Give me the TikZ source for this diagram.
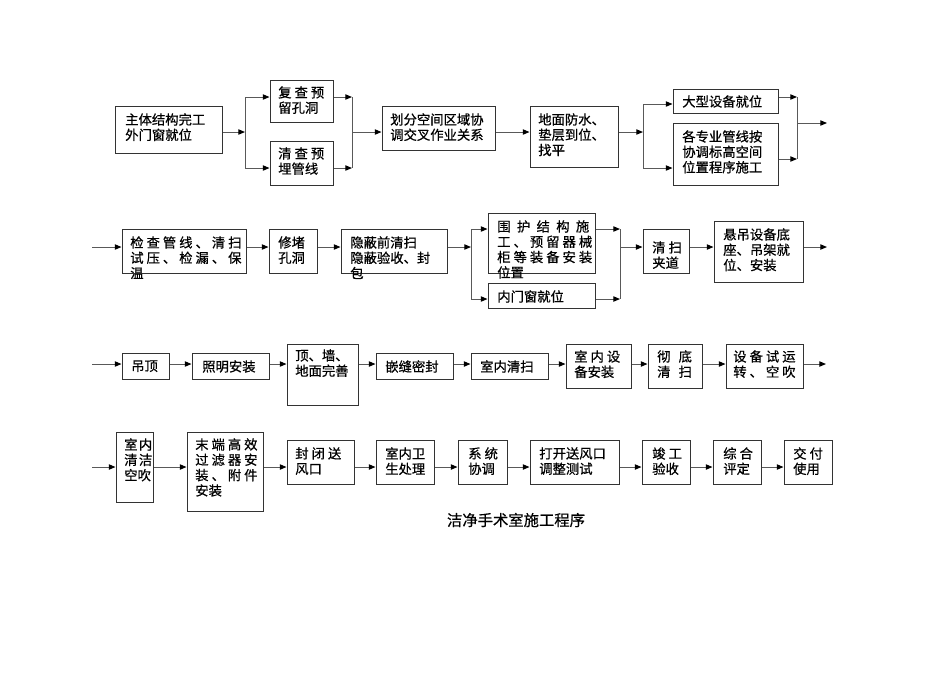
\documentclass[tikz,border=0pt]{standalone}
\usepackage{fontspec}
\setmainfont{Noto Sans CJK SC}[FakeBold=0.6]
\usetikzlibrary{arrows.meta}
\pgfdeclarelayer{edgelayer}
\pgfdeclarelayer{nodelayer}
\pgfsetlayers{edgelayer,nodelayer,main}
\tikzset{font=\fontsize{10}{11.5}\selectfont}
\tikzstyle{none}=[inner sep=0pt]
\tikzstyle{box}=[draw=black!80,rectangle,inner sep=0pt,line width=0.75pt]
\tikzstyle{txt}=[inner sep=0pt,anchor=north west,align=left]
\tikzstyle{line}=[draw=black!65,line width=0.75pt]
\tikzstyle{arrow}=[line,-{Triangle[length=5pt,width=4pt,color=black]}]
\tikzset{sz/.style 2 args={minimum width=#1*0.75pt,minimum height=#2*0.75pt}}
\begin{document}
\begin{tikzpicture}[x=0.75pt,y=-0.75pt]
	\useasboundingbox (0,0) rectangle (950,672);
	\begin{pgfonlayer}{nodelayer}
		% row 1
		\node [style=box, sz={107}{47}] (0) at (168.5, 129.5) {};
		\node [style=box, sz={63}{42}] (1) at (301.5, 101) {};
		\node [style=box, sz={63}{44}] (2) at (301.5, 163) {};
		\node [style=box, sz={113}{44}] (3) at (438.5, 128) {};
		\node [style=box, sz={88}{61}] (4) at (574, 136.5) {};
		\node [style=box, sz={105}{24}] (5) at (725.5, 101) {};
		\node [style=box, sz={105}{62}] (6) at (725.5, 154) {};
		% row 2
		\node [style=box, sz={124}{44}] (7) at (184, 251) {};
		\node [style=box, sz={48}{44}] (8) at (293, 251) {};
		\node [style=box, sz={106}{44}] (9) at (394, 251) {};
		\node [style=box, sz={107}{60}] (10) at (541.5, 243) {};
		\node [style=box, sz={107}{25}] (11) at (541.5, 295.5) {};
		\node [style=box, sz={46}{44}] (12) at (666, 251) {};
		\node [style=box, sz={89}{61}] (13) at (758.5, 251.5) {};
		% row 3
		\node [style=box, sz={47}{26}] (14) at (145.5, 366) {};
		\node [style=box, sz={77}{26}] (15) at (230.5, 366) {};
		\node [style=box, sz={71}{61}] (16) at (322.5, 374.5) {};
		\node [style=box, sz={77}{26}] (17) at (414.5, 366) {};
		\node [style=box, sz={77}{26}] (18) at (509.5, 366) {};
		\node [style=box, sz={65}{44}] (19) at (598.5, 366) {};
		\node [style=box, sz={54}{44}] (20) at (675, 366) {};
		\node [style=box, sz={77}{44}] (21) at (764.5, 366) {};
		% row 4
		\node [style=box, sz={37}{70}] (22) at (134.5, 467) {};
		\node [style=box, sz={76}{79}] (23) at (225, 471.5) {};
		\node [style=box, sz={67}{44}] (24) at (320.5, 462) {};
		\node [style=box, sz={58}{44}] (25) at (405, 462) {};
		\node [style=box, sz={49}{44}] (26) at (482.5, 462) {};
		\node [style=box, sz={89}{44}] (27) at (574.5, 462) {};
		\node [style=box, sz={48}{44}] (28) at (666, 462) {};
		\node [style=box, sz={48}{44}] (29) at (737, 462) {};
		\node [style=box, sz={48}{44}] (30) at (808, 462) {};
		% texts
		\node [style=txt] (t0) at (125, 113) {主体结构完工\\外门窗就位};
		\node [style=txt] (t1) at (278, 86) {复 查 预\\留孔洞};
		\node [style=txt] (t2) at (278, 147) {清 查 预\\埋管线};
		\node [style=txt] (t3) at (390, 113) {划分空间区域协\\调交叉作业关系};
		\node [style=txt] (t4) at (538, 113) {地面防水、\\垫层到位、\\找平};
		\node [style=txt] (t5) at (682, 95) {大型设备就位};
		\node [style=txt] (t6) at (682, 130) {各专业管线按\\协调标高空间\\位置程序施工};
		\node [style=txt] (t7) at (130, 236) {检 查 管 线 、 清 扫\\试 压 、 检 漏 、 保\\温};
		\node [style=txt] (t8) at (278, 236) {修堵\\孔洞};
		\node [style=txt] (t9) at (350, 236) {隐蔽前清扫\\隐蔽验收、封\\包};
		\node [style=txt] (t10) at (497, 220) {\makebox[69pt][s]{围 护 结 构 施}\\工 、 预 留 器 械\\柜 等 装 备 安 装\\位置};
		\node [style=txt] (t11) at (497, 290) {内门窗就位};
		\node [style=txt] (t12) at (652, 241) {清 扫\\夹道};
		\node [style=txt] (t13) at (723, 228) {悬吊设备底\\座、吊架就\\位、安装};
		\node [style=txt] (t14) at (131, 360) {吊顶};
		\node [style=txt] (t15) at (202, 360) {照明安装};
		\node [style=txt] (t16) at (295, 349) {顶、墙、\\地面完善};
		\node [style=txt] (t17) at (385, 360) {嵌缝密封};
		\node [style=txt] (t18) at (480, 360) {室内清扫};
		\node [style=txt] (t19) at (574, 350) {室 内 设\\备安装};
		\node [style=txt] (t20) at (657, 350) {彻\hspace{6pt}底\\清\hspace{6pt}扫};
		\node [style=txt] (t21) at (733, 350) {设 备 试 运\\转 、 空 吹};
		\node [style=txt] (t22) at (124, 438) {室\hspace{1pt}内\\清\hspace{1pt}洁\\空吹};
		\node [style=txt] (t23) at (195, 438) {末 端 高 效\\过 滤 器 安\\装 、 附 件\\安装};
		\node [style=txt] (t24) at (295, 447) {封 闭 送\\风口};
		\node [style=txt] (t25) at (385, 447) {室内卫\\生处理};
		\node [style=txt] (t26) at (468, 447) {系 统\\协调};
		\node [style=txt] (t27) at (539, 447) {打开送风口\\调整测试};
		\node [style=txt] (t28) at (652, 447) {竣 工\\验收};
		\node [style=txt] (t29) at (723, 447) {综 合\\评定};
		\node [style=txt] (t30) at (793, 447) {交 付\\使用};
		\node [style=none, font=\fontsize{11.5}{13}\selectfont] (title) at (516, 520) {洁净手术室施工程序};
		% joints
		\node [style=none] (j0) at (245, 132) {};
		\node [style=none] (j1) at (245, 97) {};
		\node [style=none] (j2) at (245, 168) {};
		\node [style=none] (j3) at (352, 97) {};
		\node [style=none] (j4) at (352, 168) {};
		\node [style=none] (j5) at (352, 132) {};
		\node [style=none] (j6) at (643, 132) {};
		\node [style=none] (j7) at (643, 104) {};
		\node [style=none] (j8) at (643, 168) {};
		\node [style=none] (j9) at (797, 97) {};
		\node [style=none] (j10) at (797, 159) {};
		\node [style=none] (j11) at (797, 123) {};
		\node [style=none] (j12) at (827, 123) {};
		\node [style=none] (r2) at (92, 247) {};
		\node [style=none] (j13) at (471, 247) {};
		\node [style=none] (j14) at (471, 229) {};
		\node [style=none] (j15) at (471, 299) {};
		\node [style=none] (j16) at (620, 229) {};
		\node [style=none] (j17) at (620, 299) {};
		\node [style=none] (j18) at (620, 247) {};
		\node [style=none] (j19) at (827, 247) {};
		\node [style=none] (r3) at (92, 364) {};
		\node [style=none] (j20) at (826, 364) {};
		\node [style=none] (r4) at (92, 467) {};
	\end{pgfonlayer}
	\begin{pgfonlayer}{edgelayer}
		% row 1
		\draw [style=arrow] (0.east |- j0) to (j0.center);
		\draw [style=line] (j1.center) to (j2.center);
		\draw [style=arrow] (j1.center) to (1.west |- j1);
		\draw [style=arrow] (j2.center) to (2.west |- j2);
		\draw [style=arrow] (1.east |- j3) to (j3.center);
		\draw [style=arrow] (2.east |- j4) to (j4.center);
		\draw [style=line] (j3.center) to (j4.center);
		\draw [style=arrow] (j5.center) to (3.west |- j5);
		\draw [style=arrow] (3.east |- j5) to (4.west |- j5);
		\draw [style=arrow] (4.east |- j6) to (j6.center);
		\draw [style=line] (j7.center) to (j8.center);
		\draw [style=arrow] (j7.center) to (5.west |- j7);
		\draw [style=arrow] (j8.center) to (6.west |- j8);
		\draw [style=arrow] (5.east |- j9) to (j9.center);
		\draw [style=arrow] (6.east |- j10) to (j10.center);
		\draw [style=line] (j9.center) to (j10.center);
		\draw [style=arrow] (j11.center) to (j12.center);
		% row 2
		\draw [style=arrow] (r2.center) to (7.west |- r2);
		\draw [style=arrow] (7.east |- r2) to (8.west |- r2);
		\draw [style=arrow] (8.east |- r2) to (9.west |- r2);
		\draw [style=arrow] (9.east |- j13) to (j13.center);
		\draw [style=line] (j14.center) to (j15.center);
		\draw [style=arrow] (j14.center) to (10.west |- j14);
		\draw [style=arrow] (j15.center) to (11.west |- j15);
		\draw [style=arrow] (10.east |- j16) to (j16.center);
		\draw [style=arrow] (11.east |- j17) to (j17.center);
		\draw [style=line] (j16.center) to (j17.center);
		\draw [style=arrow] (j18.center) to (12.west |- j18);
		\draw [style=arrow] (12.east |- r2) to (13.west |- r2);
		\draw [style=arrow] (13.east |- j19) to (j19.center);
		% row 3
		\draw [style=arrow] (r3.center) to (14.west |- r3);
		\draw [style=arrow] (14.east |- r3) to (15.west |- r3);
		\draw [style=arrow] (15.east |- r3) to (16.west |- r3);
		\draw [style=arrow] (16.east |- r3) to (17.west |- r3);
		\draw [style=arrow] (17.east |- r3) to (18.west |- r3);
		\draw [style=arrow] (18.east |- r3) to (19.west |- r3);
		\draw [style=arrow] (19.east |- r3) to (20.west |- r3);
		\draw [style=arrow] (20.east |- r3) to (21.west |- r3);
		\draw [style=arrow] (21.east |- j20) to (j20.center);
		% row 4
		\draw [style=arrow] (r4.center) to (22.west |- r4);
		\draw [style=arrow] (22.east |- r4) to (23.west |- r4);
		\draw [style=arrow] (23.east |- r4) to (24.west |- r4);
		\draw [style=arrow] (24.east |- r4) to (25.west |- r4);
		\draw [style=arrow] (25.east |- r4) to (26.west |- r4);
		\draw [style=arrow] (26.east |- r4) to (27.west |- r4);
		\draw [style=arrow] (27.east |- r4) to (28.west |- r4);
		\draw [style=arrow] (28.east |- r4) to (29.west |- r4);
		\draw [style=arrow] (29.east |- r4) to (30.west |- r4);
	\end{pgfonlayer}
\end{tikzpicture}
\end{document}
